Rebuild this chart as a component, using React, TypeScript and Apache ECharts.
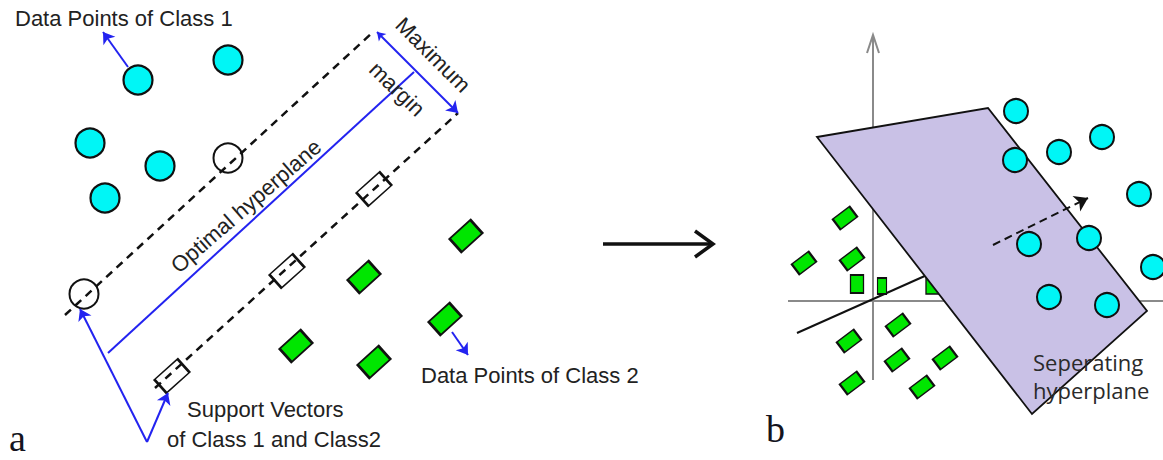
import React, { useEffect, useRef } from "react";
import * as echarts from "echarts";

const W = 1163;
const H = 460;

// ---------- Panel a ----------
const class1PointsA = [[138, 80], [228, 60], [90, 143], [160, 166], [105, 198]];
const class2PointsA = [[466, 236], [364, 277], [445, 319], [296, 346], [374, 362]];
const supportCirclesA = [[228, 158], [84, 294]];
const supportRectsA = [[374, 189], [287, 271], [172, 376]];
const marginLineUpper = [[65, 315], [372, 33]];
const marginLineLower = [[155, 388], [458, 113]];
const optimalLine = [[108, 353], [414, 72]];
const maxMarginArrow = [[377, 32], [458, 113]];
const class1Pointer = [[128, 67], [103, 32]];
const class2Pointer = [[452, 332], [468, 355]];
const svPointerLeft = [[147, 442], [80, 309]];
const svPointerRight = [[147, 442], [168, 393]];

// ---------- transition arrow ----------
const transitionShaft = [[603, 244], [711, 244]];
const transitionHead = [[695, 231], [713, 244], [695, 257]];

// ---------- Panel b ----------
const axisV = [[873, 380], [873, 36]];
const axisVHead = [[867, 53], [873, 35], [879, 53]];
const axisH = [[788, 301], [1163, 301]];
const otherHyperplane = [[797, 333], [927, 275]];
const planeCorners = [[817, 137], [988, 108], [1147, 311], [1032, 414]];
const class1PointsB = [
  [1016, 111], [1102, 137], [1059, 152], [1015, 160], [1139, 194],
  [1029, 244], [1089, 238], [1153, 267], [1049, 297], [1107, 305],
];
const class2PointsB = [
  [845, 218], [804, 263], [852, 259], [898, 325], [849, 341],
  [897, 360], [945, 358], [852, 383], [922, 387],
];
const class2UprightB = [[857, 284]];
const class2UprightSmallB = [[882, 286]];
const class2HiddenB = [[933, 285]];
const normalArrow = [[993, 245], [1088, 198]];

// ---------- texts ----------
const sansLabels = [
  { text: "Data Points of Class 1", x: 15, y: 18.5, rot: 0 },
  { text: "Data Points of Class 2", x: 421, y: 375.5, rot: 0 },
  { text: "Support Vectors", x: 187, y: 409.5, rot: 0 },
  { text: "of Class 1 and Class2", x: 167, y: 439.5, rot: 0 },
];
const rotatedLabels = [
  { text: "Maximum", x: 433, y: 55, rot: -45 },
  { text: "margin", x: 397, y: 89, rot: -44 },
  { text: "Optimal hyperplane", x: 246, y: 206, rot: 41 },
];
const panelLetters = [
  { text: "a", x: 9, y: 438 },
  { text: "b", x: 766, y: 429 },
];
const sepLabelLines = ["Seperating", "hyperplane"];
const sepLabelY = [361.5, 389.5];

const CYAN = "#00f6f6";
const GREEN = "#00e600";
const BLUE = "#2323f0";
const INK = "#111111";
const GREY = "#8a8a8a";

let zc = 1;
function seg(coords: number[][], color: string, width: number, opts: any = {}) {
  return {
    type: "lines",
    coordinateSystem: "cartesian2d",
    polyline: coords.length > 2,
    silent: true,
    z: zc++,
    data: [{ coords }],
    lineStyle: { color, width, type: opts.dash || "solid", opacity: 1, curveness: 0, cap: "butt" },
    symbol: opts.symbol || ["none", "none"],
    symbolSize: opts.symbolSize || 10,
  };
}
function dots(data: number[][], symbol: string, size: any, color: string, rotate = 0, border = 2) {
  return {
    type: "scatter",
    silent: true,
    z: zc++,
    data,
    symbol,
    symbolSize: size,
    symbolRotate: rotate,
    itemStyle: { color, borderColor: INK, borderWidth: border, opacity: 1 },
  };
}

function buildOption() {
  zc = 1;
  const series: any[] = [];
  // panel b, back layers
  series.push(seg(axisV, GREY, 2));
  series.push(seg(axisVHead, GREY, 2));
  series.push(seg(axisH, GREY, 2));
  series.push(seg(otherHyperplane, INK, 2));
  series.push(dots(class2HiddenB, "rect", [14, 18], GREEN, 0, 1.5));
  series.push({
    type: "custom",
    coordinateSystem: "cartesian2d",
    silent: true,
    z: zc++,
    data: [[0, 0]],
    renderItem: (_p: any, api: any) => ({
      type: "polygon",
      shape: { points: planeCorners.map((c) => api.coord(c)) },
      style: { fill: "#c9c1e6", stroke: INK, lineWidth: 1.8 },
    }),
  });
  series.push(dots(class2PointsB, "rect", [21, 13], GREEN, 37, 1.8));
  series.push(dots(class2UprightB, "rect", [13, 18], GREEN, 0, 1.5));
  series.push(dots(class2UprightSmallB, "rect", [9, 16], GREEN, 0, 1.5));
  series.push(dots(class1PointsB, "circle", 24, CYAN, 0, 2));
  series.push(seg(normalArrow, INK, 2, { dash: [8, 5], symbol: ["none", "arrow"], symbolSize: [10, 13] }));

  // panel a
  series.push(dots(supportCirclesA, "circle", 29, "#ffffff", 0, 2));
  series.push(dots(supportRectsA, "rect", [31, 18], "#ffffff", 42, 2));
  series.push(seg(marginLineUpper, INK, 2.5, { dash: [8, 6] }));
  series.push(seg(marginLineLower, INK, 2.5, { dash: [8, 6] }));
  series.push(seg(optimalLine, BLUE, 2));
  series.push(seg(maxMarginArrow, BLUE, 2, { symbol: ["arrow", "arrow"], symbolSize: [8, 11] }));
  series.push(seg(class1Pointer, BLUE, 2, { symbol: ["none", "arrow"], symbolSize: [8, 11] }));
  series.push(seg(class2Pointer, BLUE, 2, { symbol: ["none", "arrow"], symbolSize: [8, 11] }));
  series.push(seg(svPointerLeft, BLUE, 2, { symbol: ["none", "arrow"], symbolSize: [8, 11] }));
  series.push(seg(svPointerRight, BLUE, 2, { symbol: ["none", "arrow"], symbolSize: [8, 11] }));
  series.push(dots(class1PointsA, "circle", 29, CYAN, 0, 2.2));
  series.push(dots(class2PointsA, "rect", [28, 18], GREEN, 42, 2.2));

  // transition arrow
  series.push(seg(transitionShaft, INK, 3.5));
  series.push(seg(transitionHead, INK, 3.5));

  const sansFont = '"Liberation Sans", Arial, sans-serif';
  const graphic: any[] = [];
  sansLabels.forEach((l) =>
    graphic.push({
      type: "text", x: l.x, y: l.y, rotation: (l.rot * Math.PI) / 180, z: 100, silent: true,
      style: { text: l.text, fontFamily: sansFont, fontSize: 22, fill: "#222222", align: "left", verticalAlign: "middle", textAlign: "left", textVerticalAlign: "middle" },
    })
  );
  rotatedLabels.forEach((l) =>
    graphic.push({
      type: "text", x: l.x, y: l.y, rotation: (l.rot * Math.PI) / 180, z: 100, silent: true,
      style: { text: l.text, fontFamily: sansFont, fontSize: 22, fill: "#222222", align: "center", verticalAlign: "middle", textAlign: "center", textVerticalAlign: "middle" },
    })
  );
  panelLetters.forEach((l) =>
    graphic.push({
      type: "text", x: l.x, y: l.y, z: 100, silent: true,
      style: { text: l.text, fontFamily: '"Liberation Serif", "DejaVu Serif", serif', fontSize: 38, fill: "#141420", align: "left", verticalAlign: "middle", textAlign: "left", textVerticalAlign: "middle" },
    })
  );
  sepLabelLines.forEach((t, i) =>
    graphic.push({
      type: "text", x: 1033, y: sepLabelY[i], z: 100, silent: true,
      style: { text: t, fontFamily: '"Open Sans", "Noto Sans", sans-serif', fontSize: 22, fill: "#2a2a2a", align: "left", verticalAlign: "middle", textAlign: "left", textVerticalAlign: "middle" },
    })
  );

  return {
    animation: false,
    backgroundColor: "#ffffff",
    grid: { left: 0, right: 0, top: 0, bottom: 0 },
    xAxis: { type: "value", min: 0, max: W, show: false },
    yAxis: { type: "value", min: 0, max: H, inverse: true, show: false },
    series,
    graphic,
  };
}

export default function App() {
  const ref = useRef<HTMLDivElement>(null);
  useEffect(() => {
    if (!ref.current) return;
    const chart = echarts.init(ref.current, null, { renderer: "svg" });
    chart.setOption(buildOption());
    return () => chart.dispose();
  }, []);
  return (
    <div
      ref={ref}
      style={{ position: "absolute", left: 0, top: 0, width: W, height: H, background: "#fff" }}
    />
  );
}
